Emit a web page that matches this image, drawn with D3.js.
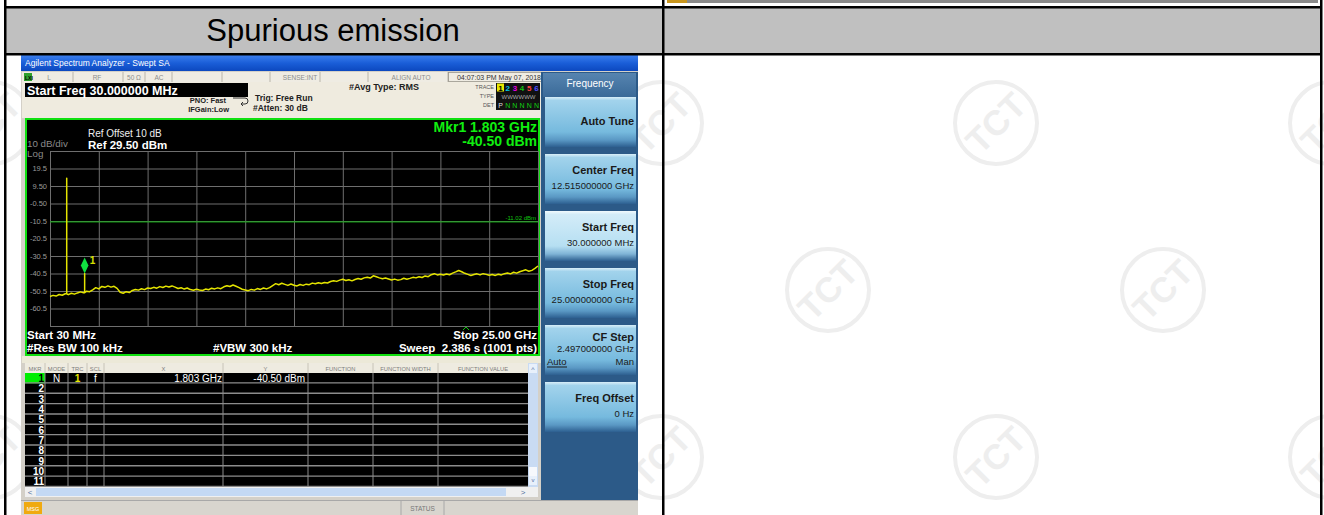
<!DOCTYPE html>
<html><head><meta charset="utf-8">
<script src="https://cdn.jsdelivr.net/npm/d3@7"></script>
<style>html,body{margin:0;padding:0;background:#fff;overflow:hidden}svg{display:block}</style>
</head><body><svg id="c" width="1324" height="515"></svg>
<script>
// ---------------- data ----------------
const tableTitle = "Spurious emission";
const startFreqGHz = 0.03;
const stopFreqGHz = 25;
const refLevelDbm = 29.5;
const dbPerDiv = 10;
const yTickValues = [19.5, 9.5, -0.5, -10.5, -20.5, -30.5, -40.5, -50.5, -60.5];
const yTickLabels = ["19.5", "9.50", "-0.50", "-10.5", "-20.5", "-30.5", "-40.5", "-50.5", "-60.5"];
const limitLineDbm = -11.02;
const limitLabel = "-11.02 dBm";
const traceLevelsDbm = [
  -53.6,-53.0,-53.4,-52.5,-52.9,-52.1,-52.6,-51.8,-52.3,-51.6,
  -51.0,-51.5,-50.6,-50.9,-49.8,-48.6,-49.3,-47.9,-48.4,-47.6,
  -48.3,-47.8,-49.0,-51.2,-51.8,-50.9,-51.4,-50.2,-49.6,-50.0,
  -49.2,-49.7,-48.8,-49.1,-48.4,-48.9,-48.0,-48.5,-47.7,-48.2,
  -47.6,-48.3,-49.1,-48.6,-49.4,-48.8,-49.7,-50.1,-49.5,-49.9,
  -50.2,-49.4,-49.8,-48.9,-49.3,-48.7,-49.2,-48.1,-47.5,-47.9,
  -47.1,-47.8,-48.6,-49.5,-49.9,-50.3,-49.6,-50.0,-49.1,-49.6,
  -48.8,-49.3,-48.6,-47.4,-46.3,-46.9,-46.1,-46.7,-47.3,-46.5,
  -47.2,-47.6,-46.8,-47.3,-46.6,-46.9,-46.0,-46.4,-45.8,-46.2,
  -45.6,-45.9,-45.1,-44.6,-45.0,-44.3,-43.8,-44.5,-44.1,-44.7,
  -43.9,-43.4,-43.8,-43.0,-42.6,-43.1,-41.8,-42.4,-43.0,-43.5,
  -43.1,-43.6,-44.2,-43.7,-44.3,-44.0,-43.2,-43.8,-43.3,-42.7,
  -43.0,-42.4,-42.8,-41.9,-42.3,-41.2,-40.6,-41.3,-40.9,-41.4,
  -40.8,-41.2,-40.3,-39.6,-38.8,-39.5,-40.4,-41.0,-41.6,-41.1,
  -40.7,-41.3,-40.6,-41.0,-41.5,-41.1,-41.6,-40.9,-41.3,-40.6,
  -40.2,-40.7,-39.8,-40.3,-39.5,-38.9,-38.4,-39.2,-38.7,-37.6,
  -36.2
];
const spikeFreqsGHz = [0.885, 1.803];
const spikeLevelsDbm = [14.0, -40.5];
const markerFreqGHz = 1.803;
const markerLevelDbm = -40.5;
const markerLabel = "1";
const markerRowNumbers = ["1","2","3","4","5","6","7","8","9","10","11"];
const markerTableColumns = ["MKR","MODE","TRC","SCL","X","Y","FUNCTION","FUNCTION WIDTH","FUNCTION VALUE"];
const marker1Cells = ["N", "1", "f", "1.803 GHz", "-40.50 dBm"];
const softkeyLabels = ["Auto Tune", "Center Freq", "Start Freq", "Stop Freq", "CF Step", "Freq Offset"];
const softkeyValues = ["", "12.515000000 GHz", "30.000000 MHz", "25.000000000 GHz", "2.497000000 GHz", "0 Hz"];

// ---------------- drawing ----------------
const svg = d3.select("#c");
const F = "'Liberation Sans', Arial, sans-serif";
const defs = svg.append("defs");

function txt(g, x, y, s, o = {}) {
  return g.append("text").attr("x", x).attr("y", y).text(s)
    .attr("font-family", o.family || F)
    .attr("font-size", o.size || 10)
    .attr("font-weight", o.weight || "normal")
    .attr("fill", o.fill || "#000")
    .attr("text-anchor", o.anchor || "start")
    .style("white-space", "pre");
}
function rect(g, x, y, w, h, fill, stroke, sw) {
  const r = g.append("rect").attr("x", x).attr("y", y).attr("width", w).attr("height", h).attr("fill", fill);
  if (stroke) r.attr("stroke", stroke).attr("stroke-width", sw || 1);
  return r;
}
function grad(id, stops) {
  const lg = defs.append("linearGradient").attr("id", id).attr("x1", 0).attr("y1", 0).attr("x2", 0).attr("y2", 1);
  stops.forEach(s => lg.append("stop").attr("offset", s[0]).attr("stop-color", s[1]));
}
grad("gTitle", [[0, "#3d80ee"], [0.5, "#1a5ed8"], [1, "#0c48bf"]]);
grad("gKey", [[0, "#d8eef8"], [0.07, "#a2d3ec"], [0.7, "#76bade"], [0.86, "#5a98c4"], [1, "#2d5f90"]]);
grad("gKeySel", [[0, "#f2fafd"], [0.07, "#d3ecf8"], [0.7, "#b6dff2"], [0.86, "#7fb3d6"], [1, "#2d5f90"]]);
grad("gHead", [[0, "#5684b0"], [1, "#3a6a98"]]);

// page background
rect(svg, 0, 0, 1324, 515, "#fff");

// top strip remnants (previous row)
rect(svg, 667, 0, 651, 3, "#8a8a8a");
rect(svg, 667, 0, 20, 3, "#c8961e");

// header row
rect(svg, 5, 8, 1317, 45, "#c0c0c0");
txt(svg, 333, 41, tableTitle, { size: 31, anchor: "middle", fill: "#000" });

// watermarks (behind screenshot)
const clip = defs.append("clipPath").attr("id", "pageClip");
clip.append("rect").attr("x", 0).attr("y", 56).attr("width", 1324).attr("height", 459);
const wm = svg.append("g").attr("clip-path", "url(#pageClip)");
const wmPos = [[-9,123],[326,123],[661,123],[996,123],[1331,123],
               [158,290],[493,290],[828,290],[1163,290],
               [-9,457],[326,457],[661,457],[996,457],[1331,457]];
wmPos.forEach(([cx, cy]) => {
  wm.append("circle").attr("cx", cx).attr("cy", cy).attr("r", 41)
    .attr("fill", "none").attr("stroke", "#eeeeee").attr("stroke-width", 4);
  wm.append("text").attr("x", cx).attr("y", cy + 12).attr("text-anchor", "middle")
    .attr("transform", `rotate(-45 ${cx} ${cy})`)
    .attr("font-family", F).attr("font-weight", "bold").attr("font-size", 35)
    .attr("fill", "#eeeeee").text("TCT");
});

// ---------------- screenshot ----------------
const sc = svg.append("g");
rect(sc, 21, 55, 617, 460, "#d4d0c8");
// title bar
rect(sc, 21, 55, 617, 16, "url(#gTitle)");
txt(sc, 25, 66, "Agilent Spectrum Analyzer - Swept SA", { size: 8.5, fill: "#fff" });
// status row
rect(sc, 22, 72, 521, 10, "#efece3");
rect(sc, 24, 73, 8, 8, "#2ea02e");
txt(sc, 25, 80, "LXI", { size: 5, fill: "#000", weight: "bold" });
[[49, "L"], [97, "RF"], [134, "50 Ω"], [159, "AC"], [300, "SENSE:INT"], [411, "ALIGN AUTO"]]
  .forEach(([x, s]) => txt(sc, x, 80, s, { size: 6.5, fill: "#8c8c8c", anchor: "middle" }));
[73, 123, 145, 172, 222, 270, 320, 368, 448].forEach(x =>
  sc.append("line").attr("x1", x).attr("x2", x).attr("y1", 72).attr("y2", 82).attr("stroke", "#b9b5aa"));
rect(sc, 448.5, 72.5, 94, 9, "none", "#9a968c", 0.8);
txt(sc, 541, 80, "04:07:03 PM May 07, 2018", { size: 7, fill: "#333", anchor: "end" });
// info area
rect(sc, 22, 82, 521, 36, "#efebdf");
rect(sc, 25, 83, 223, 14, "#000");
txt(sc, 27, 94.5, "Start Freq 30.000000 MHz", { size: 12.5, weight: "bold", fill: "#fff" });
txt(sc, 226, 103, "PNO: Fast", { size: 7.5, weight: "bold", fill: "#222", anchor: "end" });
txt(sc, 229, 112, "IFGain:Low", { size: 7.5, weight: "bold", fill: "#222", anchor: "end" });
sc.append("path").attr("d", "M233,98 h12 a3,3 0 0 1 0,6 h-4 M241,104 l2,-2 M241,104 l2,2")
  .attr("fill", "none").attr("stroke", "#333").attr("stroke-width", 1);
txt(sc, 255, 101, "Trig: Free Run", { size: 8.5, weight: "bold", fill: "#222" });
txt(sc, 253, 111, "#Atten: 30 dB", { size: 8.5, weight: "bold", fill: "#222" });
txt(sc, 349, 90, "#Avg Type: RMS", { size: 9, weight: "bold", fill: "#222" });
// trace box
txt(sc, 494, 89, "TRACE", { size: 5.5, fill: "#555", anchor: "end" });
txt(sc, 494, 98, "TYPE", { size: 5.5, fill: "#555", anchor: "end" });
txt(sc, 494, 107, "DET", { size: 5.5, fill: "#555", anchor: "end" });
rect(sc, 496, 83, 44, 27, "#111");
rect(sc, 497, 83.5, 7, 8, "#e8e800");
const traceNums = ["1","2","3","4","5","6"], traceCols = ["#000","#00c8e8","#e000e0","#10c010","#ff4040","#5050ff"];
traceNums.forEach((s, i) => txt(sc, 500.5 + i * 7.2, 90.5, s, { size: 8, weight: "bold", fill: traceCols[i], anchor: "middle" }));
txt(sc, 518.5, 99, "WWWWWW", { size: 6, fill: "#aaa", anchor: "middle" });
["P","N","N","N","N","N"].forEach((s, i) => txt(sc, 500.5 + i * 7.2, 108, s, { size: 7, fill: i ? "#10d010" : "#ddd", anchor: "middle" }));

// plot frame
rect(sc, 26, 119, 513, 236, "#000", "#10e010", 2);

// scales
const x = d3.scaleLinear().domain([startFreqGHz, stopFreqGHz]).range([50, 538]);
const y = d3.scaleLinear().domain([refLevelDbm - 10 * dbPerDiv, refLevelDbm]).range([326, 151]);

// graticule
const gridY = d3.range(0, 11).map(i => refLevelDbm - i * dbPerDiv);
const gridX = d3.range(0, 11).map(i => startFreqGHz + i * (stopFreqGHz - startFreqGHz) / 10);
const plot = sc.append("g");
const yAxis = d3.axisLeft(y).tickValues(gridY).tickSize(-(x.range()[1] - x.range()[0])).tickPadding(3)
  .tickFormat(d => { const k = yTickValues.findIndex(v => Math.abs(v - d) < 1e-6); return k >= 0 ? yTickLabels[k] : ""; });
const ya = plot.append("g").attr("transform", `translate(${x.range()[0]},0)`).call(yAxis);
ya.select(".domain").remove();
ya.selectAll("line").attr("stroke", "#6e6e6e").attr("stroke-width", 1);
ya.selectAll("text").attr("font-family", F).attr("font-size", 7.5).attr("fill", "#9a9a9a");
const xAxis = d3.axisBottom(x).tickValues(gridX).tickSize(-(y.range()[0] - y.range()[1])).tickFormat("");
const xa = plot.append("g").attr("transform", `translate(0,${y.range()[0]})`).call(xAxis);
xa.select(".domain").remove();
xa.selectAll("line").attr("stroke", "#6e6e6e").attr("stroke-width", 1);

// limit line
plot.append("line").attr("x1", x.range()[0]).attr("x2", x.range()[1])
  .attr("y1", y(limitLineDbm)).attr("y2", y(limitLineDbm)).attr("stroke", "#10b010").attr("stroke-width", 1);
txt(plot, 536, y(limitLineDbm) - 2, limitLabel, { size: 6, fill: "#10c010", anchor: "end" });

// trace
const nPts = traceLevelsDbm.length;
const freqAt = i => startFreqGHz + i * (stopFreqGHz - startFreqGHz) / (nPts - 1);
let pts = traceLevelsDbm.map((v, i) => [freqAt(i), v]);
spikeFreqsGHz.forEach((f, k) => {
  const idx = Math.round((f - startFreqGHz) / (stopFreqGHz - startFreqGHz) * (nPts - 1));
  const base = traceLevelsDbm[idx];
  pts.push([f - 1e-4, base], [f, spikeLevelsDbm[k]], [f + 1e-4, base]);
});
pts.sort((a, b) => a[0] - b[0]);
plot.append("path").datum(pts)
  .attr("d", d3.line().x(d => x(d[0])).y(d => y(d[1])))
  .attr("fill", "none").attr("stroke", "#e4e400").attr("stroke-width", 1.5).attr("stroke-linejoin", "round");

// marker
const mx = x(markerFreqGHz), my = y(markerLevelDbm);
plot.append("path").attr("d", `M${mx},${my} L${mx - 3.8},${my - 8} L${mx},${my - 16} L${mx + 3.8},${my - 8} Z`)
  .attr("fill", "#10e040");
txt(plot, mx + 5, my - 10, markerLabel, { size: 10, weight: "bold", fill: "#d8e000" });
// small green caret at bottom
plot.append("path").attr("d", "M463,330 L466,327 L469,330").attr("fill", "none").attr("stroke", "#10c010").attr("stroke-width", 1);

// plot texts
txt(sc, 88, 137, "Ref Offset 10 dB", { size: 10, fill: "#eee" });
txt(sc, 27, 147, "10 dB/div", { size: 9.8, fill: "#8a8a8a" });
txt(sc, 88, 148.5, "Ref 29.50 dBm", { size: 11.5, weight: "bold", fill: "#fff" });
txt(sc, 27, 157, "Log", { size: 9.8, fill: "#8a8a8a" });
txt(sc, 537, 132, "Mkr1 1.803 GHz", { size: 14, weight: "bold", fill: "#10ee10", anchor: "end" });
txt(sc, 537, 145.5, "-40.50 dBm", { size: 14, weight: "bold", fill: "#10ee10", anchor: "end" });
txt(sc, 27, 339, "Start 30 MHz", { size: 11.5, weight: "bold", fill: "#fff" });
txt(sc, 27, 351.5, "#Res BW 100 kHz", { size: 11.5, weight: "bold", fill: "#fff" });
txt(sc, 213, 351.5, "#VBW 300 kHz", { size: 11.5, weight: "bold", fill: "#fff" });
txt(sc, 537, 339, "Stop 25.00 GHz", { size: 11.5, weight: "bold", fill: "#fff", anchor: "end" });
txt(sc, 537, 351.5, "Sweep  2.386 s (1001 pts)", { size: 11.5, weight: "bold", fill: "#fff", anchor: "end" });

// gap between plot and table
rect(sc, 22, 356, 521, 7, "#ece9d8");

// marker table
const colX = [25, 45, 68, 87, 104, 223, 308, 373, 438, 528];
const tTop = 363, hdrH = 10, rowH = 10.36;
rect(sc, 25, tTop, 503, hdrH, "#eeebe0");
markerTableColumns.forEach((c, i) =>
  txt(sc, (colX[i] + colX[i + 1]) / 2, tTop + 7.5, c, { size: 5.8, fill: "#7d7d7d", anchor: "middle" }));
colX.slice(1, -1).forEach(cx => sc.append("line").attr("x1", cx).attr("x2", cx).attr("y1", tTop).attr("y2", tTop + hdrH).attr("stroke", "#c8c4b8"));
const bodyTop = tTop + hdrH;
rect(sc, 25, bodyTop, 503, rowH * markerRowNumbers.length, "#000");
markerRowNumbers.forEach((n, i) => {
  const ry = bodyTop + i * rowH;
  if (i === 0) rect(sc, 25, ry, 20, rowH, "#00ee00");
  txt(sc, 44, ry + 8.8, n, { size: 10, weight: "bold", fill: i === 0 ? "#000" : "#fff", anchor: "end" });
  sc.append("line").attr("x1", 25).attr("x2", 528).attr("y1", ry + rowH - 0.5).attr("y2", ry + rowH - 0.5)
    .attr("stroke", "#8c8c8c").attr("stroke-width", 1.4);
});
colX.slice(1, -1).forEach(cx => sc.append("line").attr("x1", cx).attr("x2", cx).attr("y1", bodyTop).attr("y2", bodyTop + rowH * 11)
  .attr("stroke", "#8c8c8c").attr("stroke-width", 1));
txt(sc, 56.5, bodyTop + 8.8, marker1Cells[0], { size: 10, fill: "#fff", anchor: "middle" });
txt(sc, 77.5, bodyTop + 8.8, marker1Cells[1], { size: 10, weight: "bold", fill: "#e8e800", anchor: "middle" });
txt(sc, 95.5, bodyTop + 8.8, marker1Cells[2], { size: 10, fill: "#fff", anchor: "middle" });
txt(sc, 222, bodyTop + 8.8, marker1Cells[3], { size: 10, fill: "#fff", anchor: "end" });
txt(sc, 305, bodyTop + 8.8, marker1Cells[4], { size: 10, fill: "#fff", anchor: "end" });
// vertical scrollbar
rect(sc, 528, tTop, 10, 124, "#c9dbf3");
rect(sc, 529, tTop + 1, 8, 9, "#e8f0fb");
txt(sc, 533, tTop + 8.5, "^", { size: 7, fill: "#5070a0", anchor: "middle" });
rect(sc, 529, 476, 8, 9, "#e8f0fb");
txt(sc, 533, 482, "v", { size: 6, fill: "#5070a0", anchor: "middle" });
rect(sc, 529, 467, 8, 9, "#f6f8fc");
// horizontal scrollbar
rect(sc, 25, 487, 513, 10, "#f0f0f0");
rect(sc, 36, 488, 470, 8, "#c4d9f4");
txt(sc, 30, 495, "<", { size: 8, fill: "#5070a0", anchor: "middle" });
txt(sc, 523, 495, ">", { size: 8, fill: "#5070a0", anchor: "middle" });

// status bar
rect(sc, 21, 500, 617, 15, "#d8d5ce");
sc.append("line").attr("x1", 21).attr("x2", 638).attr("y1", 500.5).attr("y2", 500.5).attr("stroke", "#a8a8a8");
rect(sc, 24, 502, 18, 12, "#f0aa10");
txt(sc, 33, 510.5, "MSG", { size: 5.5, fill: "#fff", anchor: "middle" });
[401, 444].forEach(xx => sc.append("line").attr("x1", xx).attr("x2", xx).attr("y1", 501).attr("y2", 515).attr("stroke", "#a8a8a8"));
txt(sc, 422.5, 510.5, "STATUS", { size: 6.5, fill: "#777", anchor: "middle" });

// softkey panel
rect(sc, 541, 72, 97, 428, "#2c5a88");
rect(sc, 543, 73, 93, 24, "url(#gHead)");
txt(sc, 590, 86.5, "Frequency", { size: 10, fill: "#fff", anchor: "middle" });
const keyTop = [97, 154, 211, 268, 325, 382];
softkeyLabels.forEach((lab, i) => {
  const ty = keyTop[i];
  rect(sc, 545, ty, 91, 50, i === 2 ? "url(#gKeySel)" : "url(#gKey)");
  const val = softkeyValues[i];
  if (i === 0) {
    txt(sc, 634, ty + 28, lab, { size: 11, weight: "bold", fill: "#1a1a1a", anchor: "end" });
  } else if (i === 4) {
    txt(sc, 634, ty + 16, lab, { size: 11, weight: "bold", fill: "#1a1a1a", anchor: "end" });
    txt(sc, 634, ty + 27, val, { size: 9.5, fill: "#1a1a1a", anchor: "end" });
    txt(sc, 547, ty + 40, "Auto", { size: 9.5, fill: "#1a1a1a" });
    sc.append("line").attr("x1", 547).attr("x2", 567).attr("y1", ty + 42).attr("y2", ty + 42).attr("stroke", "#1a1a1a");
    txt(sc, 634, ty + 40, "Man", { size: 9.5, fill: "#1a1a1a", anchor: "end" });
  } else {
    txt(sc, 634, ty + 20, lab, { size: 11, weight: "bold", fill: "#1a1a1a", anchor: "end" });
    txt(sc, 634, ty + 35, val, { size: 9.5, fill: "#1a1a1a", anchor: "end" });
  }
});

// table borders
svg.append("rect").attr("x", 4).attr("y", 6).attr("width", 1318).attr("height", 2.5).attr("fill", "#000");
svg.append("rect").attr("x", 4).attr("y", 53).attr("width", 1318).attr("height", 2.5).attr("fill", "#000");
svg.append("rect").attr("x", 4).attr("y", 0).attr("width", 2.5).attr("height", 515).attr("fill", "#000");
svg.append("rect").attr("x", 662).attr("y", 0).attr("width", 2.5).attr("height", 515).attr("fill", "#000");
svg.append("rect").attr("x", 1320).attr("y", 0).attr("width", 2.5).attr("height", 515).attr("fill", "#000");
</script>
</body></html>
